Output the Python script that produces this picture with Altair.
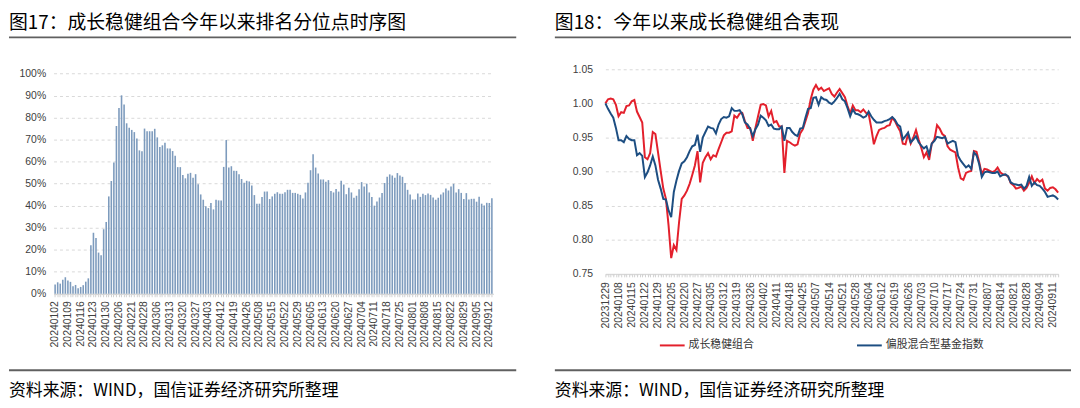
import altair as alt
import pandas as pd

CJK = "Noto Sans CJK SC"
LAT = "Liberation Sans"

TITLE_L = "图17：成长稳健组合今年以来排名分位点时序图"
TITLE_R = "图18：今年以来成长稳健组合表现"
SOURCE = "资料来源：WIND，国信证券经济研究所整理"
SERIES = ["成长稳健组合", "偏股混合型基金指数"]

HOLIDAYS = ["20240101", "20240209", "20240212", "20240213", "20240214", "20240215",
            "20240216", "20240404", "20240405", "20240501", "20240502", "20240503",
            "20240610"]
trade_days = [d.strftime("%Y%m%d") for d in pd.bdate_range("2023-12-29", "2024-09-13")
              if d.strftime("%Y%m%d") not in HOLIDAYS]

# ranking percentile (%) 20240102 .. 20240913
rank_pct = [
    4.2, 5.2, 4.6, 6.4, 7.5, 6.0, 5.4, 3.4, 4.0, 2.5, 3.1, 3.9, 5.5, 7.0, 22.0, 27.7,
    25.3, 18.7, 17.5, 29.3, 32.6, 44.2, 51.2, 59.6, 76.2, 84.4, 90.1, 85.9, 77.4, 75.4,
    74.4, 73.4, 70.5, 65.1, 64.7, 75.0, 73.8, 73.8, 73.8, 74.9, 71.0, 66.6, 67.4, 68.6,
    66.0, 66.0, 64.8, 62.7, 57.5, 57.5, 53.9, 52.4, 54.5, 54.9, 52.7, 54.3, 49.7, 45.1,
    42.7, 39.7, 38.9, 41.2, 38.3, 42.7, 42.4, 42.4, 57.6, 69.8, 57.3, 57.9, 55.8, 55.8,
    54.3, 52.1, 50.4, 51.3, 51.0, 49.1, 44.8, 40.9, 40.9, 43.9, 46.4, 46.4, 43.0, 44.2,
    45.4, 46.1, 45.4, 45.4, 46.1, 47.2, 47.2, 45.8, 45.8, 45.4, 44.9, 43.3, 46.0, 50.4,
    56.1, 63.3, 57.3, 54.6, 51.9, 51.9, 50.9, 51.6, 46.7, 46.0, 47.6, 46.4, 51.3, 49.6,
    45.2, 48.1, 46.0, 43.6, 44.5, 47.5, 50.7, 48.7, 50.0, 46.0, 43.9, 40.0, 41.9, 43.7,
    45.8, 50.3, 53.1, 54.2, 53.7, 52.7, 54.8, 53.7, 53.1, 50.3, 47.2, 45.1, 42.8, 42.8,
    45.5, 44.0, 45.4, 44.8, 45.5, 44.9, 43.7, 42.7, 43.6, 45.1, 46.0, 47.8, 46.9, 48.7,
    49.9, 46.0, 47.5, 45.8, 43.0, 45.7, 42.8, 43.1, 43.1, 41.8, 44.0, 40.9, 40.1, 41.3,
    41.2, 43.4,
]

# 20231229 .. 20240913
growth = [
    1.000, 1.006, 1.007, 1.006, 0.998, 0.981, 0.987, 0.986, 0.996, 0.997, 1.003, 1.005,
    0.988, 0.980, 0.972, 0.921, 0.918, 0.927, 0.958, 0.955, 0.928, 0.901, 0.875, 0.860,
    0.821, 0.773, 0.792, 0.785, 0.826, 0.860, 0.865, 0.872, 0.882, 0.895, 0.909, 0.930,
    0.884, 0.913, 0.921, 0.927, 0.918, 0.924, 0.922, 0.933, 0.943, 0.953, 0.957, 0.957,
    0.959, 0.982, 0.979, 0.985, 0.986, 0.974, 0.964, 0.964, 0.945, 0.964, 0.981, 0.998,
    0.999, 0.997, 0.981, 0.989, 0.972, 0.974, 0.966, 0.966, 0.898, 0.945, 0.943, 0.940,
    0.938, 0.940, 0.956, 0.962, 0.974, 0.986, 1.006, 1.020, 1.027, 1.020, 1.023, 1.018,
    1.020, 1.022, 1.014, 1.010, 1.016, 1.021, 1.015, 1.009, 0.996, 0.985, 0.997, 0.990,
    0.990, 0.987, 0.991, 0.986, 0.985, 0.964, 0.940, 0.952, 0.961, 0.963, 0.964, 0.967,
    0.968, 0.979, 0.974, 0.966, 0.959, 0.941, 0.940, 0.955, 0.941, 0.950, 0.961, 0.947,
    0.935, 0.921, 0.928, 0.917, 0.941, 0.947, 0.968, 0.963, 0.955, 0.952, 0.937, 0.932,
    0.930, 0.928, 0.906, 0.890, 0.888, 0.898, 0.900, 0.901, 0.930, 0.929, 0.914, 0.896,
    0.904, 0.903, 0.901, 0.899, 0.901, 0.906, 0.899, 0.896, 0.895, 0.893, 0.883, 0.880,
    0.875, 0.876, 0.878, 0.872, 0.876, 0.884, 0.893, 0.883, 0.889, 0.885, 0.888, 0.875,
    0.872, 0.876, 0.877, 0.874, 0.869,
]

fund_index = [
    1.000, 0.992, 0.985, 0.979, 0.964, 0.946, 0.946, 0.943, 0.952, 0.948, 0.946, 0.946,
    0.924, 0.927, 0.923, 0.892, 0.899, 0.909, 0.922, 0.909, 0.888, 0.875, 0.860, 0.859,
    0.843, 0.833, 0.870, 0.887, 0.901, 0.912, 0.915, 0.921, 0.930, 0.937, 0.939, 0.954,
    0.929, 0.950, 0.958, 0.966, 0.964, 0.963, 0.956, 0.969, 0.977, 0.980, 0.979, 0.981,
    0.993, 0.989, 0.989, 0.990, 0.984, 0.972, 0.969, 0.963, 0.952, 0.962, 0.969, 0.982,
    0.979, 0.975, 0.967, 0.969, 0.963, 0.962, 0.962, 0.966, 0.945, 0.964, 0.964, 0.958,
    0.954, 0.952, 0.963, 0.964, 0.979, 0.992, 0.993, 1.008, 1.009, 0.998, 1.009, 1.006,
    1.005, 1.001, 0.999, 1.003, 1.008, 1.014, 1.006, 1.003, 0.993, 0.981, 0.991, 0.985,
    0.984, 0.982, 0.979, 0.981, 0.988, 0.981, 0.976, 0.972, 0.972, 0.972, 0.974, 0.975,
    0.977, 0.980, 0.976, 0.969, 0.966, 0.947, 0.952, 0.957, 0.943, 0.947, 0.952, 0.943,
    0.938, 0.934, 0.937, 0.925, 0.941, 0.945, 0.951, 0.950, 0.949, 0.951, 0.941, 0.943,
    0.945, 0.943, 0.923, 0.916, 0.911, 0.906, 0.909, 0.904, 0.928, 0.924, 0.911, 0.892,
    0.899, 0.900, 0.899, 0.898, 0.898, 0.900, 0.893, 0.895, 0.896, 0.893, 0.884, 0.882,
    0.881, 0.880, 0.881, 0.875, 0.879, 0.892, 0.879, 0.884, 0.880, 0.879, 0.875, 0.870,
    0.863, 0.864, 0.865, 0.863, 0.859,
]

left_days = trade_days[1:]
left_labels = left_days[::5]
right_labels = trade_days[::5]

y_left_ticks = [i / 10 for i in range(11)]
y_right_ticks = [0.75, 0.80, 0.85, 0.90, 0.95, 1.00, 1.05]

BAR = "#7d9bbd"
RED = "#e3202c"
BLUE = "#1d4e82"
GRID = "#d9d9d9"
AX = "#d0d0d0"
LBL = "#404040"


def label_expr(labels):
    arr = ",".join("'" + d + "'" for d in labels)
    return "indexof([" + arr + "], datum.value) >= 0 ? datum.value : ''"


df_rank = pd.DataFrame({"date": left_days, "rank": [v / 100 for v in rank_pct]})
df_line = pd.concat([
    pd.DataFrame({"date": trade_days, "value": growth, "series": SERIES[0], "o": 0}),
    pd.DataFrame({"date": trade_days, "value": fund_index, "series": SERIES[1], "o": 1}),
])


def deco(title, x0, x1):
    one = pd.DataFrame({"t": [title], "s": [SOURCE]})
    t = alt.Chart(one).mark_text(align="left", baseline="alphabetic", font=CJK,
                                 fontSize=19, color="#000000").encode(
        text="t:N", x=alt.value(x0), y=alt.value(-40.5))
    s = alt.Chart(one).mark_text(align="left", baseline="alphabetic", font=CJK,
                                 fontSize=17, color="#000000").encode(
        text="s:N", x=alt.value(x0), y=alt.value(329.5))
    r1 = alt.Chart(one).mark_rule(color="#606060", strokeWidth=2).encode(
        x=alt.value(x0), x2=alt.value(x1), y=alt.value(-32.2))
    r2 = alt.Chart(one).mark_rule(color="#606060", strokeWidth=2).encode(
        x=alt.value(x0), x2=alt.value(x1), y=alt.value(303.8))
    # invisible rule fixing the top edge of the panel (page y = 8)
    frame = alt.Chart(one).mark_rule(color="#ffffff", strokeOpacity=0, strokeWidth=1).encode(
        x=alt.value(x0), x2=alt.value(x1), y=alt.value(-59.7))
    return [t, s, r1, r2, frame]


# left plot top sits 4.3px above the 100% line
bars = alt.Chart(df_rank).mark_bar(color=BAR).encode(
    x=alt.X("date:O", sort=None, title=None,
            scale=alt.Scale(paddingInner=0.38, paddingOuter=0.3),
            axis=alt.Axis(labelAngle=270, labelExpr=label_expr(left_labels),
                          labelOverlap=False, labelFontSize=10.5, labelFont=LAT,
                          labelColor=LBL, labelPadding=4, tickSize=3, tickColor=AX,
                          domainColor=AX, grid=False)),
    y=alt.Y("rank:Q", title=None, scale=alt.Scale(domain=[0, 1.0193], nice=False),
            axis=alt.Axis(values=y_left_ticks, format=".0%", domain=False, ticks=False,
                          gridColor=GRID, gridDash=[3, 3], labelFontSize=10.5,
                          labelFont=LAT, labelColor=LBL, labelPadding=8)),
)

left = alt.layer(bars, *deco(TITLE_L, -45, 467)).properties(width=444, height=226.6)

lines = alt.Chart(df_line).mark_line(strokeWidth=2).encode(
    x=alt.X("date:O", sort=None, title=None,
            scale=alt.Scale(type="point", padding=0),
            axis=alt.Axis(labelAngle=270, labelExpr=label_expr(right_labels),
                          labelOverlap=False, labelFontSize=10.5, labelFont=LAT,
                          labelColor=LBL, labelPadding=5, tickSize=3, tickColor=AX,
                          domainColor=AX, grid=False)),
    y=alt.Y("value:Q", title=None, scale=alt.Scale(domain=[0.75, 1.05], nice=False, zero=False),
            axis=alt.Axis(values=y_right_ticks, format=".2f", domain=False, ticks=False,
                          gridColor=GRID, gridDash=[3, 3], labelFontSize=10.5,
                          labelFont=LAT, labelColor=LBL, labelPadding=13)),
    color=alt.Color("series:N", scale=alt.Scale(domain=SERIES, range=[RED, BLUE]),
                    legend=alt.Legend(title=None, orient="none", legendX=54, legendY=265,
                                      direction="horizontal", symbolType="stroke",
                                      symbolSize=625, symbolStrokeWidth=2, labelFont=CJK,
                                      labelFontSize=11, labelColor="#333333", labelOffset=3,
                                      columnPadding=100, padding=0)),
    order="o:Q",
)

right = alt.layer(lines, *deco(TITLE_R, -51, 470)).properties(width=457, height=206.5)

chart = (alt.hconcat(left, right, spacing=37, padding=0)
         .resolve_legend(color="independent")
         .configure_view(stroke=None))

chart.save("out.html", embed_options={"renderer": "svg", "actions": False})
